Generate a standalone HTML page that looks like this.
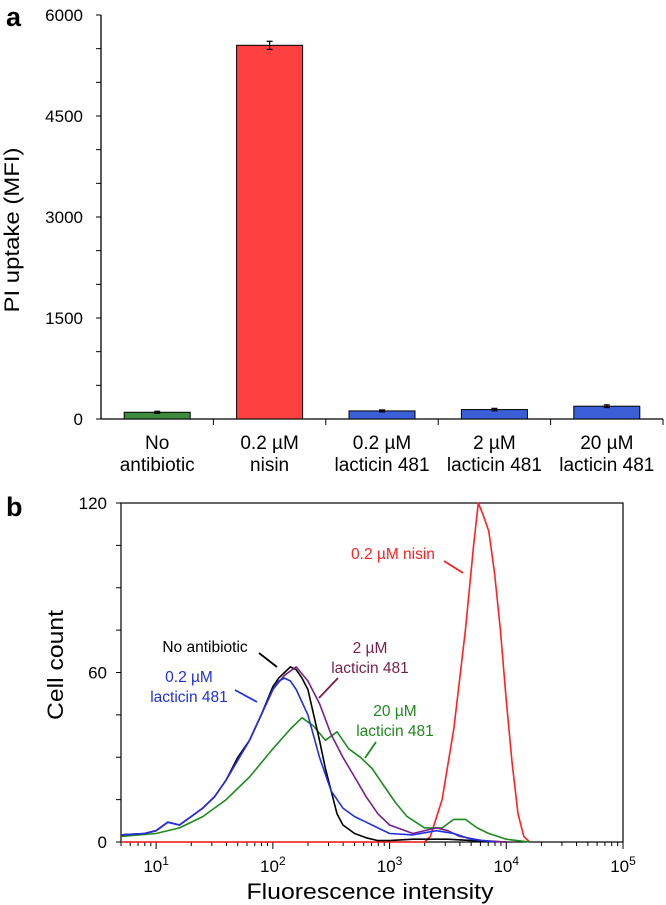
<!DOCTYPE html>
<html><head><meta charset="utf-8"><style>
html,body{margin:0;padding:0;background:#fff}
svg{display:block;font-family:"Liberation Sans",Arial,sans-serif}
</style></head><body>
<svg id="fig" width="666" height="905" viewBox="0 0 666 905" xmlns="http://www.w3.org/2000/svg">
<text x="6" y="26" font-size="27" font-weight="bold">a</text>
<text x="6" y="516" font-size="27" font-weight="bold">b</text>
<g id="chartA"></g>
<g id="chartB"></g>
</svg>
<script>
// ---------- Panel A data ----------
const catLine1 = ["No", "0.2 µM", "0.2 µM", "2 µM", "20 µM"];
const catLine2 = ["antibiotic", "nisin", "lacticin 481", "lacticin 481", "lacticin 481"];
const barValues = [100, 5550, 120, 140, 190];
const barErrors = [15, 60, 15, 18, 20];
const barColors = ["#3e8a3e", "#ff4040", "#3a5fd6", "#3a5fd6", "#3a5fd6"];
const yTicksA = [0, 1500, 3000, 4500, 6000];

// ---------- Panel B data (x = log10 intensity, y = count) ----------
const blackX = [0.7,0.9,1.0,1.1,1.2,1.3,1.4,1.5,1.6,1.7,1.8,1.9,2.0,2.05,2.1,2.15,2.2,2.25,2.3,2.35,2.4,2.45,2.5,2.55,2.6,2.7,2.8,2.9,3.0,3.2,3.5,3.8,4.0];
const blackY = [2.5,3,4,7,6,9,12,16,22,30,36,45,55,58,60,62,61,58,54,45,36,26,18,10,6,3,1.5,0.5,0.5,1,1,0.3,0];
const blueX = [0.7,0.9,1.0,1.1,1.2,1.3,1.4,1.5,1.6,1.7,1.8,1.9,2.0,2.05,2.1,2.15,2.2,2.3,2.4,2.5,2.6,2.7,2.8,2.9,3.0,3.2,3.4,3.55,3.7,3.9];
const blueY = [2.5,3,4,7,6,9,12,16,22,29,36,45,54,57,58,57,54,45,30,18,12,9,7,5,3,2.5,4,3,1,0];
const purpleX = [0.7,0.9,1.0,1.1,1.2,1.3,1.4,1.5,1.6,1.7,1.8,1.9,2.0,2.1,2.2,2.3,2.4,2.5,2.6,2.7,2.8,2.9,3.0,3.2,3.4,3.5,3.6,3.8,4.0];
const purpleY = [2.5,3,4,7,6,9,12,16,22,29,36,45,54,59,62,57,49,38,30,23,16,10,6,3,5,4,2,0.5,0];
const greenX = [0.7,1.0,1.2,1.4,1.6,1.8,2.0,2.15,2.25,2.35,2.45,2.55,2.65,2.75,2.85,2.95,3.05,3.15,3.3,3.45,3.55,3.65,3.75,3.85,4.0,4.2];
const greenY = [2,3,5,9,15,23,33,40,44,41,36,39,33,30,26,20,14,9,5,5,8,8,5,3,1,0];
const redX = [0.7,1.5,2.5,3.3,3.35,3.45,3.55,3.65,3.72,3.76,3.8,3.85,3.9,3.95,4.0,4.05,4.1,4.15,4.2];
const redY = [0,0,0,0,2,15,40,75,105,120,116,110,95,75,50,28,10,2,0];
const yTicksB = [0, 60, 120];
const xDecades = [1, 2, 3, 4, 5];

const NS = "http://www.w3.org/2000/svg";
function mk(parent, tag, attrs, text) {
  const e = document.createElementNS(NS, tag);
  for (const k in attrs) e.setAttribute(k, attrs[k]);
  if (text !== undefined) e.textContent = text;
  parent.appendChild(e);
  return e;
}

// ---------- Panel A ----------
const A = document.getElementById('chartA');
const aL = 101, aR = 663, aT = 15, aB = 419, aMax = 6000;
const ya = v => aB - v / aMax * (aB - aT);
const band = (aR - aL) / catLine1.length;
const xa = i => aL + band * (i + 0.5);
let ax = mk(A, 'line', {x1: aL, y1: aT, x2: aL, y2: aB, stroke: '#000', 'stroke-width': 1.3});


ax = mk(A, 'line', {x1: aL, y1: aB, x2: aR, y2: aB, stroke: '#000', 'stroke-width': 1.3});


for (let v = 0; v <= aMax; v += 500) {
  mk(A, 'line', {x1: aL - 5, y1: ya(v), x2: aL, y2: ya(v), stroke: '#000', 'stroke-width': 1});
}
yTicksA.forEach(v => {
  const t = mk(A, 'text', {x: aL - 18, y: ya(v) + 6, 'font-size': 17, 'text-anchor': 'end'}, String(v));
  
  
});
for (let i = 1; i <= catLine1.length; i++) {
  const x = aL + band * i;
  mk(A, 'line', {x1: x, y1: aB, x2: x, y2: aB + 6, stroke: '#000', 'stroke-width': 1});
}
const yt = mk(A, 'text', {x: 0, y: 0, 'font-size': 21, 'text-anchor': 'middle', textLength: 165, lengthAdjust: 'spacingAndGlyphs', transform: `translate(19,230) rotate(-90)`}, 'PI uptake (MFI)');


const bw = 66;
barValues.forEach((v, i) => {
  const r = mk(A, 'rect', {x: xa(i) - bw / 2, y: ya(v), width: bw, height: aB - ya(v), fill: barColors[i], stroke: '#000', 'stroke-width': 1});
  
  
  const e = barErrors[i];
  const g = mk(A, 'g', {stroke: '#000', 'stroke-width': 1.2});
  
  
  mk(g, 'line', {x1: xa(i), y1: ya(v + e), x2: xa(i), y2: ya(v - e)});
  mk(g, 'line', {x1: xa(i) - 3, y1: ya(v + e), x2: xa(i) + 3, y2: ya(v + e)});
  mk(g, 'line', {x1: xa(i) - 3, y1: ya(v - e), x2: xa(i) + 3, y2: ya(v - e)});
  const t1 = mk(A, 'text', {x: xa(i), y: 449, 'font-size': 19, 'text-anchor': 'middle'}, catLine1[i]);
  
  
  const t2 = mk(A, 'text', {x: xa(i), y: 471, 'font-size': 19, 'text-anchor': 'middle'}, catLine2[i]);
  
  
});

// ---------- Panel B ----------
const B = document.getElementById('chartB');
const bL = 121, bR = 623, bT = 503, bBt = 842;
const lx0 = Math.log10(5), lx1 = 5;
const xb = l => bL + (l - lx0) / (lx1 - lx0) * (bR - bL);
const yb = v => bBt - v / 120 * (bBt - bT);
const frame = mk(B, 'rect', {x: bL, y: bT, width: bR - bL, height: bBt - bT, fill: 'none', stroke: '#000', 'stroke-width': 1.2});


for (let v = 0; v <= 120; v += 15) {
  mk(B, 'line', {x1: bL - 5, y1: yb(v), x2: bL, y2: yb(v), stroke: '#000', 'stroke-width': 1});
}
yTicksB.forEach(v => {
  const t = mk(B, 'text', {x: bL - 14, y: yb(v) + 6, 'font-size': 17, 'text-anchor': 'end'}, String(v));
  
  
});
for (let d = 0; d < 5; d++) {
  for (let m = 1; m <= 9; m++) {
    const l = d + Math.log10(m);
    if (l < lx0 - 1e-6 || l > lx1) continue;
    const big = m === 1;
    mk(B, 'line', {x1: xb(l), y1: bBt, x2: xb(l), y2: bBt + (big ? 7 : 4), stroke: '#000', 'stroke-width': 1});
  }
}
mk(B, 'line', {x1: xb(5), y1: bBt, x2: xb(5), y2: bBt + 7, stroke: '#000', 'stroke-width': 1});
xDecades.forEach(d => {
  const t = mk(B, 'text', {x: xb(d), y: bBt + 30, 'font-size': 17, 'text-anchor': 'middle'});
  
  
  mk(t, 'tspan', {}, '10');
  mk(t, 'tspan', {dy: -7, 'font-size': 12}, String(d));
});
let tt = mk(B, 'text', {x: 370, y: 899, 'font-size': 22, 'text-anchor': 'middle', textLength: 247, lengthAdjust: 'spacingAndGlyphs'}, 'Fluorescence intensity');


tt = mk(B, 'text', {x: 0, y: 0, 'font-size': 22, 'text-anchor': 'middle', textLength: 110, lengthAdjust: 'spacingAndGlyphs', transform: 'translate(63,665) rotate(-90)'}, 'Cell count');



function curve(xs, ys, color, name) {
  const d = xs.map((l, i) => (i ? 'L' : 'M') + xb(l).toFixed(1) + ',' + yb(ys[i]).toFixed(1)).join(' ');
  const p = mk(B, 'path', {d: d, fill: 'none', stroke: color, 'stroke-width': 1.6, 'stroke-linejoin': 'round'});
  
  
}
curve(redX, redY, '#ff2020', 'nisin-curve');
curve(greenX, greenY, '#1f8a1f', 'lacticin-20um-curve');
curve(blackX, blackY, '#000000', 'no-antibiotic-curve');
curve(purpleX, purpleY, '#7a1f8a', 'lacticin-2um-curve');
curve(blueX, blueY, '#2030e0', 'lacticin-02um-curve');

function note(lines, cx, y0, color, lx1_, ly1, lx2, ly2, name) {
  const g = mk(B, 'g', {});
  
  
  lines.forEach((s, i) => mk(g, 'text', {x: cx, y: y0 + i * 20, 'font-size': 15.5, 'text-anchor': 'middle', fill: color}, s));
  mk(g, 'line', {x1: lx1_, y1: ly1, x2: lx2, y2: ly2, stroke: color, 'stroke-width': 1.8});
}
note(['No antibiotic'], 205, 652, '#000', 259, 653, 277, 667, 'no-antibiotic-annotation');
note(['0.2 µM', 'lacticin 481'], 189, 682, '#2030e0', 235, 690, 257, 702, 'lacticin-02um-annotation');
note(['2 µM', 'lacticin 481'], 370, 653, '#7a1f4a', 338, 678, 319, 698, 'lacticin-2um-annotation');
note(['20 µM', 'lacticin 481'], 395, 716, '#1f8a1f', 376, 742, 365, 758, 'lacticin-20um-annotation');
note(['0.2 µM nisin'], 393, 559, '#ff2020', 444, 561, 463, 573, 'nisin-annotation');
</script>
</body></html>
